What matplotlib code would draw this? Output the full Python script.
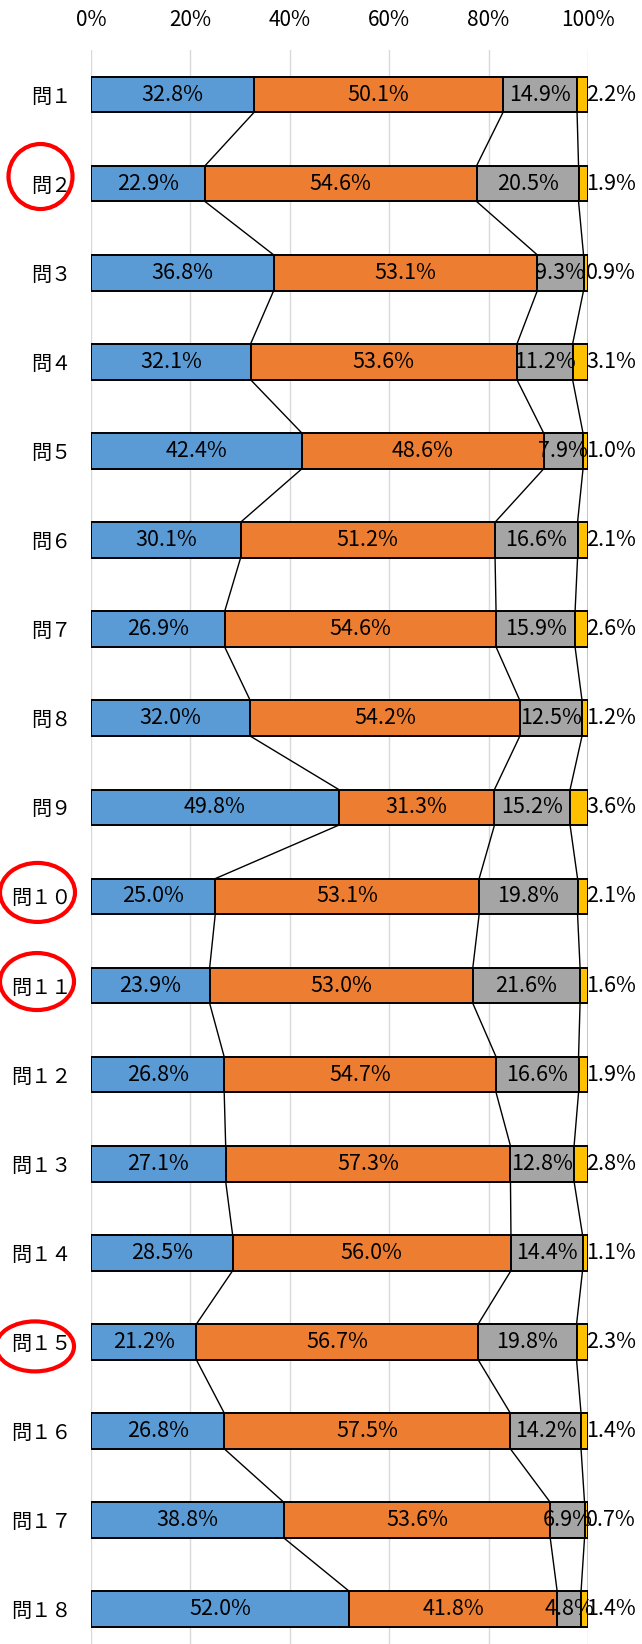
import matplotlib
matplotlib.use("Agg")
import matplotlib.pyplot as plt
import matplotlib.transforms as mtransforms
from matplotlib.patches import Ellipse
import numpy as np

plt.rcParams['font.family'] = ['Noto Sans CJK JP', 'DejaVu Sans']

questions = ["問１", "問２", "問３", "問４", "問５", "問６", "問７", "問８", "問９",
             "問１０", "問１１", "問１２", "問１３", "問１４", "問１５", "問１６", "問１７", "問１８"]
s1 = [32.8, 22.9, 36.8, 32.1, 42.4, 30.1, 26.9, 32.0, 49.8, 25.0, 23.9, 26.8, 27.1, 28.5, 21.2, 26.8, 38.8, 52.0]
s2 = [50.1, 54.6, 53.1, 53.6, 48.6, 51.2, 54.6, 54.2, 31.3, 53.1, 53.0, 54.7, 57.3, 56.0, 56.7, 57.5, 53.6, 41.8]
s3 = [14.9, 20.5, 9.3, 11.2, 7.9, 16.6, 15.9, 12.5, 15.2, 19.8, 21.6, 16.6, 12.8, 14.4, 19.8, 14.2, 6.9, 4.8]
s4 = [2.2, 1.9, 0.9, 3.1, 1.0, 2.1, 2.6, 1.2, 3.6, 2.1, 1.6, 1.9, 2.8, 1.1, 2.3, 1.4, 0.7, 1.4]
xticks = [0, 20, 40, 60, 80, 100]
# circled question labels: (index, centre x px, width px, height px, y shift)
circled = [(1, 40.5, 64, 65, -0.08), (9, 37.5, 75, 59, -0.045),
           (10, 37, 74, 57, -0.045), (14, 35, 78, 50, 0.05)]

colors = ['#5B9BD5', '#ED7D31', '#A5A5A5', '#FFC000']

vals = np.array([s1, s2, s3, s4])
shares = vals / vals.sum(axis=0) * 100
cum = np.cumsum(shares, axis=0)
starts = cum - shares
y = np.arange(len(questions))

W, H = 642, 1644
fig = plt.figure(figsize=(W / 100, H / 100), dpi=100)
ax_left, ax_w = 91 / W, 497 / W
top_px, unit_px = 50, 89.1
ax_h_px = unit_px * len(questions)
ax = fig.add_axes([ax_left, 1 - (top_px + ax_h_px) / H, ax_w, ax_h_px / H])

bar_h = 0.40
for k in range(4):
    ax.barh(y, shares[k], left=starts[k], height=bar_h, color=colors[k],
            edgecolor='black', linewidth=1.4, zorder=3)

# series lines between bars
for k in range(4):
    for i in range(len(questions) - 1):
        ax.plot([cum[k][i], cum[k][i + 1]], [y[i] + bar_h / 2, y[i + 1] - bar_h / 2],
                color='black', linewidth=1.0, zorder=2)

# data labels
for i in range(len(questions)):
    for k in range(3):
        ax.text(starts[k][i] + shares[k][i] / 2, y[i], f"{vals[k][i]:.1f}%",
                ha='center', va='center', fontsize=15.5, color='black', zorder=4)
    ax.text(99.6, y[i], f"{vals[3][i]:.1f}%", ha='left', va='center',
            fontsize=15.5, color='black', zorder=2.5)

ax.set_xlim(0, 100)
ax.set_ylim(len(questions) - 0.5, -0.5)
ax.set_xticks(xticks)
ax.set_xticklabels([f"{t}%" for t in xticks], fontsize=15)
ax.xaxis.tick_top()
ax.set_yticks(y)
ax.set_yticklabels(questions, fontsize=14.5)
ax.tick_params(axis='x', length=0, pad=14)
ax.tick_params(axis='y', length=0, pad=14)
ax.grid(axis='x', color='#D9D9D9', linewidth=1.0, zorder=0)
ax.set_axisbelow(True)
for sp in ax.spines.values():
    sp.set_visible(False)

trans = mtransforms.blended_transform_factory(ax.transAxes, ax.transData)
for idx, cx, w, h, dy in circled:
    e = Ellipse(((cx - 91) / 497, y[idx] + dy), w / 497, h / unit_px,
                transform=trans, fill=False, edgecolor='#FF0000', linewidth=3,
                clip_on=False, zorder=5)
    ax.add_patch(e)

fig.savefig("out.png", dpi=100)
